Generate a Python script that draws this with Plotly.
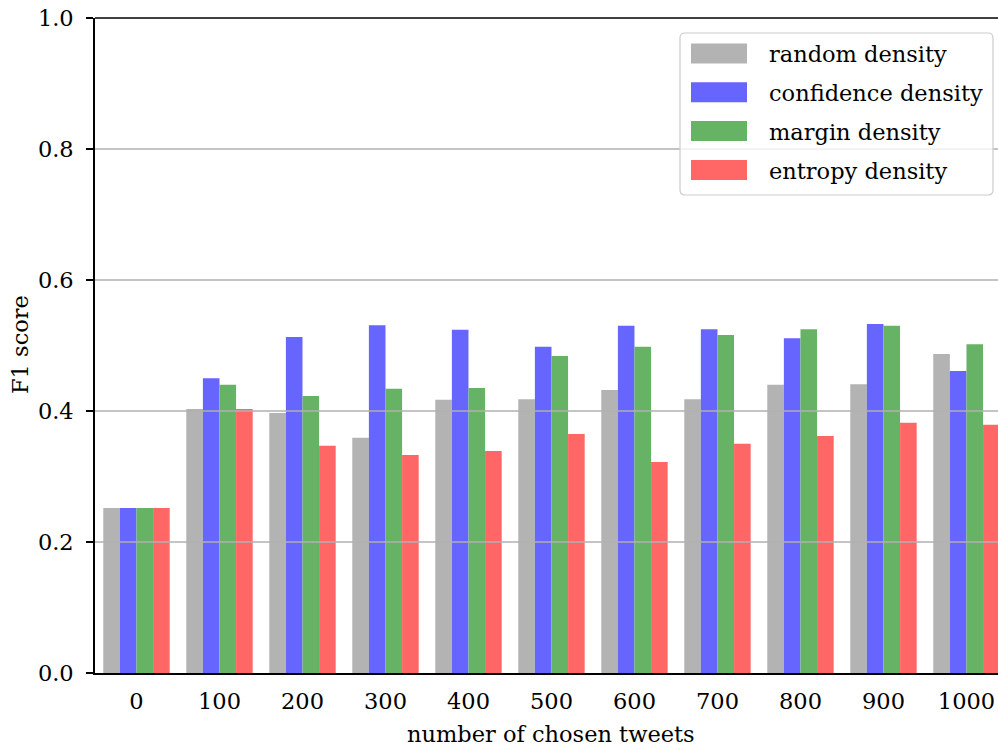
import plotly.graph_objects as go

categories = ["0", "100", "200", "300", "400", "500", "600", "700", "800", "900", "1000"]
series_names = ["random density", "confidence density", "margin density", "entropy density"]
random_density = [0.252, 0.403, 0.397, 0.359, 0.417, 0.418, 0.432, 0.418, 0.440, 0.441, 0.487]
confidence_density = [0.252, 0.450, 0.513, 0.531, 0.524, 0.498, 0.530, 0.525, 0.511, 0.533, 0.461]
margin_density = [0.252, 0.440, 0.423, 0.434, 0.435, 0.484, 0.498, 0.516, 0.525, 0.530, 0.502]
entropy_density = [0.252, 0.403, 0.347, 0.333, 0.339, 0.365, 0.322, 0.350, 0.362, 0.382, 0.379]
y_ticks = [0.0, 0.2, 0.4, 0.6, 0.8, 1.0]
colors = ["#b3b3b3", "#6666ff", "#66b366", "#ff6666"]

W, H = 998, 748
L, R, T, B = 95, 0, 18, 75
FONT = "DejaVu Serif"
FS = 22.5

fig = go.Figure()
for name, vals, c in zip(series_names, [random_density, confidence_density, margin_density, entropy_density], colors):
    fig.add_trace(go.Bar(x=categories, y=vals, name=name, marker=dict(color=c, line=dict(width=0)),
                         showlegend=False))

pw = W - L - R
ph = H - T - B
def px2x(px):
    return (px - L) / pw
def px2y(py):
    return (H - B - py) / ph

shapes = []
for v in y_ticks[1:-1]:
    shapes.append(dict(type="line", xref="paper", yref="y", x0=0, x1=1, y0=v, y1=v,
                       line=dict(color="#b0b0b0", width=1.6), layer="above"))
shapes.append(dict(type="line", xref="paper", yref="paper", x0=0, x1=1, y0=1, y1=1,
                   line=dict(color="black", width=1.6), layer="above"))

x0, x1, y0, y1, r = 680, 993, 33, 195, 5
def P(x, y):
    return f"{px2x(x):.5f},{px2y(y):.5f}"
path = (f"M {P(x0+r, y0)} L {P(x1-r, y0)} Q {P(x1, y0)} {P(x1, y0+r)} "
        f"L {P(x1, y1-r)} Q {P(x1, y1)} {P(x1-r, y1)} L {P(x0+r, y1)} "
        f"Q {P(x0, y1)} {P(x0, y1-r)} L {P(x0, y0+r)} Q {P(x0, y0)} {P(x0+r, y0)} Z")
shapes.append(dict(type="path", xref="paper", yref="paper", path=path,
                   fillcolor="rgba(255,255,255,0.8)", line=dict(color="#cccccc", width=1.2), layer="above"))

annotations = []
row_centers = [53.5, 92.3, 131.1, 169.9]
for name, c, cy in zip(series_names, colors, row_centers):
    shapes.append(dict(type="rect", xref="paper", yref="paper",
                       x0=px2x(691), x1=px2x(747), y0=px2y(cy - 10), y1=px2y(cy + 10),
                       fillcolor=c, line=dict(width=0), layer="above"))
    annotations.append(dict(text=name, xref="paper", yref="paper", x=px2x(767), y=px2y(cy + 1),
                            xanchor="left", yanchor="middle", showarrow=False,
                            font=dict(family=FONT, size=FS, color="black")))

annotations.append(dict(text="number of chosen tweets", xref="paper", yref="paper",
                        x=px2x(551), y=px2y(734), xanchor="center", yanchor="middle", showarrow=False,
                        font=dict(family=FONT, size=FS, color="black")))
annotations.append(dict(text="F1 score", xref="paper", yref="paper", textangle=-90,
                        x=px2x(20), y=px2y(345), xanchor="center", yanchor="middle", showarrow=False,
                        font=dict(family=FONT, size=FS, color="black")))

fig.update_layout(
    width=W, height=H,
    margin=dict(l=L, r=R, t=T, b=B, pad=0),
    paper_bgcolor="white", plot_bgcolor="white",
    barmode="group", bargap=0.2, bargroupgap=0.0,
    shapes=shapes, annotations=annotations,
    font=dict(family=FONT, size=FS, color="black"),
    xaxis=dict(type="category", range=[-0.5, 10.38], showgrid=False, showline=True,
               linecolor="black", linewidth=1.6, ticks="", ticklabelstandoff=7,
               tickfont=dict(family=FONT, size=FS), zeroline=False),
    yaxis=dict(range=[0, 1], tickvals=y_ticks, ticktext=[f"{v:.1f}" for v in y_ticks],
               showgrid=False, showline=True, linecolor="black", linewidth=1.6,
               ticks="outside", ticklen=7, tickwidth=1.6, tickcolor="black",
               ticklabelstandoff=8, tickfont=dict(family=FONT, size=FS), zeroline=False),
)

fig.write_html("out.html")
